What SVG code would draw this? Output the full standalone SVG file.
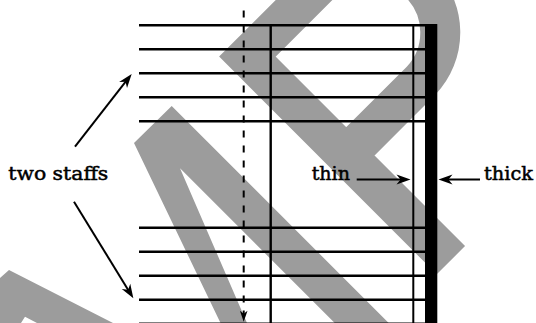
<svg xmlns="http://www.w3.org/2000/svg" width="536" height="323" viewBox="0 0 536 323">
<style>
.wm{fill:none;stroke:#9c9c9c;stroke-width:40;stroke-linejoin:miter;stroke-linecap:butt}
.wmf{fill:#9c9c9c;stroke:none}
.staff{stroke:#000;stroke-width:2.4}
.bar{stroke:#000;stroke-width:2.4}
.arr{stroke:#000;stroke-width:2;fill:none}
.dash{stroke:#000;stroke-width:2;stroke-dasharray:7 8;fill:none}
.lbl{font-family:"DejaVu Serif","Liberation Serif",serif;font-size:19px;fill:#000;stroke:#000;stroke-width:0.5}
</style>
<defs>
<marker id="ah" markerUnits="userSpaceOnUse" viewBox="-20 -8 22 16" markerWidth="22" markerHeight="16" refX="-6" refY="0" orient="auto">
<path d="M0,0 L-14,-5 L-10,0 L-14,5 Z" fill="#000"/>
</marker>
<marker id="ahs" markerUnits="userSpaceOnUse" viewBox="-20 -8 22 16" markerWidth="22" markerHeight="16" refX="-6" refY="0" orient="auto">
<path d="M0,0 L-11,-3.8 L-8,0 L-11,3.8 Z" fill="#000"/>
</marker>
</defs>
<rect width="536" height="323" fill="#fff"/>
<g id="watermark">
<path class="wm" d="M450.9,260.2 L247.4,56.6 L322.6,-18.5 A69.9,69.9 0 0 1 421.4,80.3 L346.2,155.5"/>
<polygon class="wmf" points="134,143 171.7,106 388.7,323 334.7,323 180,168.3 247,323 220.5,323"/>
<polygon class="wmf" points="0,278 9,270 113,323 37,323 25,316.7 21,323 0,323"/>
</g>
<g id="staff-top">
<line class="staff" x1="139" y1="25.3" x2="437" y2="25.3"/>
<line class="staff" x1="139" y1="49.3" x2="425" y2="49.3"/>
<line class="staff" x1="139" y1="73.3" x2="425" y2="73.3"/>
<line class="staff" x1="139" y1="97.3" x2="425" y2="97.3"/>
<line class="staff" x1="139" y1="121.3" x2="425" y2="121.3"/>
</g>
<g id="staff-bottom">
<line class="staff" x1="139" y1="227.7" x2="425" y2="227.7"/>
<line class="staff" x1="139" y1="251.7" x2="425" y2="251.7"/>
<line class="staff" x1="139" y1="275.7" x2="425" y2="275.7"/>
<line class="staff" x1="139" y1="299.7" x2="425" y2="299.7"/>
<line class="staff" x1="139" y1="323.7" x2="425" y2="323.7"/>
</g>
<g id="barline">
<line class="bar" x1="270.7" y1="24.5" x2="270.7" y2="323"/>
</g>
<g id="thin-bar">
<line class="bar" x1="413.3" y1="24.5" x2="413.3" y2="323" style="stroke-width:2"/>
</g>
<g id="thick-bar">
<rect x="425" y="24.1" width="12.3" height="299" fill="#000"/>
</g>
<g id="label-two-staffs">
<text class="lbl" x="8.3" y="180" textLength="100" lengthAdjust="spacingAndGlyphs">two staffs</text>
</g>
<g id="label-thin">
<text class="lbl" x="311.7" y="180" textLength="38.3" lengthAdjust="spacingAndGlyphs">thin</text>
</g>
<g id="label-thick">
<text class="lbl" x="484" y="180" textLength="49" lengthAdjust="spacingAndGlyphs">thick</text>
</g>
<g id="connectors">
<line class="arr" x1="75" y1="146.7" x2="128" y2="78.7" marker-end="url(#ah)"/>
<line class="arr" x1="74" y1="201.7" x2="130.2" y2="293.2" marker-end="url(#ah)"/>
<line class="arr" x1="356.7" y1="179.5" x2="404.5" y2="179.5" marker-end="url(#ah)"/>
<line class="arr" x1="480" y1="179.5" x2="444.5" y2="179.5" marker-end="url(#ah)"/>
<line class="dash" x1="243.7" y1="10.5" x2="243.7" y2="315.7" marker-end="url(#ahs)"/>
</g>
</svg>
